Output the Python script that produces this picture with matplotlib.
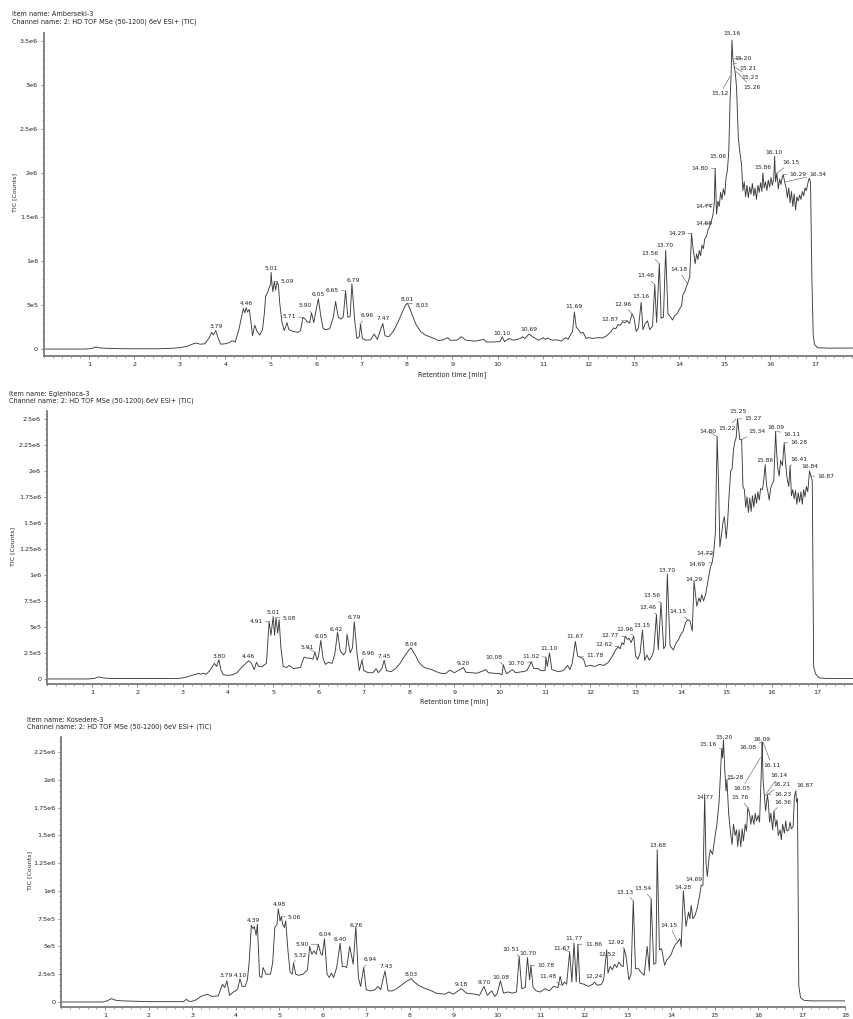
import numpy as np
import matplotlib.pyplot as plt
from matplotlib.ticker import MultipleLocator

# ---- Amberseki-3 trace: retention time [min] / TIC [x1e5 counts]
amb_time = [0.0, 0.9, 1.05, 1.15, 1.25, 1.4, 1.7, 2.0, 2.5, 2.8, 3.0, 3.15, 3.3, 3.35, 3.45, 3.55,
            3.65, 3.7, 3.74, 3.79, 3.84, 3.9, 4.0, 4.1, 4.15, 4.22, 4.3, 4.36, 4.4, 4.43, 4.46, 4.49,
            4.53, 4.57, 4.6, 4.65, 4.7, 4.76, 4.82, 4.86, 4.89, 4.93, 4.97, 5.0, 5.01, 5.03, 5.05,
            5.08, 5.11, 5.14, 5.17, 5.2, 5.25, 5.3, 5.36, 5.4, 5.5, 5.6, 5.66, 5.71, 5.76, 5.8, 5.86,
            5.9, 5.95, 6.0, 6.05, 6.1, 6.15, 6.2, 6.3, 6.38, 6.43, 6.49, 6.55, 6.6, 6.65, 6.7, 6.75,
            6.79, 6.85, 6.9, 6.95, 6.98, 7.02, 7.1, 7.2, 7.28, 7.35, 7.42, 7.47, 7.52, 7.6, 7.7, 7.8,
            7.9, 7.97, 8.01, 8.05, 8.1, 8.2, 8.3, 8.4, 8.5, 8.6, 8.7, 8.8, 8.9, 8.95, 9.1, 9.2, 9.3,
            9.5, 9.7, 9.75, 9.9, 10.05, 10.1, 10.15, 10.25, 10.35, 10.5, 10.55, 10.6, 10.69, 10.8,
            10.9, 11.0, 11.05, 11.1, 11.2, 11.3, 11.4, 11.5, 11.55, 11.6, 11.65, 11.69, 11.73, 11.78,
            11.83, 11.88, 11.95, 12.0, 12.1, 12.2, 12.3, 12.4, 12.5, 12.55, 12.6, 12.65, 12.7, 12.75,
            12.8, 12.85, 12.9, 12.96, 13.0, 13.05, 13.1, 13.16, 13.2, 13.25, 13.3, 13.35, 13.41, 13.46,
            13.5, 13.56, 13.6, 13.65, 13.7, 13.75, 13.8, 13.85, 13.9, 13.95, 14.0, 14.05, 14.08, 14.12,
            14.15, 14.18, 14.23, 14.27, 14.3, 14.35, 14.38, 14.41, 14.44, 14.47, 14.5, 14.53, 14.56,
            14.6, 14.63, 14.66, 14.69, 14.72, 14.74, 14.77, 14.79, 14.82, 14.85, 14.88, 14.91, 14.94,
            14.97, 15.0, 15.03, 15.06, 15.09, 15.12, 15.14, 15.16, 15.18, 15.2, 15.21, 15.23, 15.26,
            15.28, 15.3, 15.33, 15.37, 15.4, 15.43, 15.46, 15.49, 15.52, 15.55, 15.58, 15.61, 15.64,
            15.67, 15.7, 15.73, 15.76, 15.79, 15.82, 15.84, 15.87, 15.9, 15.93, 15.96, 15.99, 16.02,
            16.05, 16.08, 16.1, 16.12, 16.15, 16.18, 16.21, 16.24, 16.27, 16.29, 16.32, 16.35, 16.38,
            16.41, 16.44, 16.47, 16.5, 16.53, 16.56, 16.59, 16.62, 16.65, 16.68, 16.71, 16.74, 16.77,
            16.8, 16.83, 16.86, 16.89, 16.92, 16.95, 16.98, 17.05, 17.3, 18.0]
amb_tic = [0, 0, 0.05, 0.23, 0.12, 0.08, 0.04, 0.03, 0.03, 0.08, 0.15, 0.3, 0.6, 0.68, 0.55, 0.6,
           1.3, 1.9, 1.6, 2.1, 1.3, 0.55, 0.6, 0.75, 0.95, 0.8, 2.2, 3.7, 4.6, 4.1, 4.7, 4.2,
           4.5, 2.9, 1.5, 2.7, 2.0, 1.6, 2.2, 4.0, 6.0, 6.4, 7.0, 7.4, 8.7, 7.3, 6.5,
           7.7, 6.7, 7.6, 7.3, 5.2, 3.0, 2.1, 3.0, 2.2, 2.0, 1.9, 2.1, 3.6, 3.4, 3.1, 3.0,
           4.1, 3.0, 4.4, 5.7, 3.9, 2.4, 2.2, 2.3, 3.6, 5.4, 3.6, 3.4, 3.7, 6.6, 3.6, 3.7,
           7.4, 3.3, 1.2, 1.4, 2.8, 1.2, 1.0, 1.05, 1.7, 1.1, 2.2, 2.9, 1.5, 1.4, 2.0, 3.0,
           4.2, 5.0, 5.2, 4.8, 4.1, 2.8, 2.0, 1.6, 1.4, 1.2, 0.95, 1.05, 1.3, 1.0, 1.0, 1.4, 1.0,
           0.9, 1.1, 0.8, 0.8, 0.85, 1.4, 0.85, 1.2, 1.0, 1.2, 1.4, 1.2, 1.7, 1.3,
           1.0, 1.3, 1.1, 1.25, 1.0, 1.05, 0.9, 1.3, 1.1, 1.6, 2.0, 4.2, 2.5, 2.2,
           1.8, 1.9, 1.2, 1.3, 1.2, 1.3, 1.25, 1.5, 2.0, 2.4, 2.3, 2.8, 2.7, 3.1,
           3.0, 3.2, 2.9, 4.0, 3.6, 2.0, 2.4, 5.3, 2.2, 2.9, 3.2, 2.2, 2.6, 7.3,
           3.0, 9.7, 3.5, 3.6, 11.2, 4.0, 3.7, 3.3, 3.8, 4.0, 4.5, 4.9, 6.2, 6.5,
           7.0, 7.4, 8.2, 13.1, 11.5, 9.7, 10.8, 10.2, 11.2, 10.6, 11.8, 11.4, 12.5,
           12.8, 13.5, 13.8, 14.3, 14.8, 15.2, 16.5, 20.5, 15.3, 16.8, 16.2, 17.8, 17.0,
           18.2, 17.5, 19.5, 20.3, 22.5, 28.5, 31.0, 35.1, 33.0, 32.5, 32.0, 31.5, 29.8,
           27.0, 24.0, 22.5, 21.0, 18.0, 19.0, 17.3, 18.6, 17.2, 18.4, 17.6, 18.8, 17.4,
           18.3, 17.0, 18.6, 17.8, 18.9, 17.9, 20.0, 18.3, 19.0, 18.0, 19.2, 18.4, 19.5,
           18.6, 19.4, 21.9, 19.0, 20.0, 18.2, 19.3, 18.7, 19.6, 19.8, 19.0, 18.4, 17.2,
           18.3, 16.6, 17.9, 16.2, 17.6, 15.8, 17.3, 16.8, 17.5, 17.0, 17.9, 17.4, 18.3,
           18.0, 18.8, 19.4, 19.0, 8.0, 1.5, 0.5, 0.15, 0.1, 0.12]

# ---- Eglenhoca-3 trace
egl_time = [0.0, 0.9, 1.05, 1.15, 1.25, 1.4, 2.0, 2.9, 3.0, 3.1, 3.2, 3.3, 3.35, 3.4, 3.45, 3.52,
            3.6, 3.7, 3.75, 3.8, 3.85, 3.9, 4.0, 4.1, 4.2, 4.3, 4.4, 4.46, 4.52, 4.58, 4.63, 4.68,
            4.76, 4.85, 4.88, 4.91, 4.95, 5.0, 5.03, 5.06, 5.1, 5.13, 5.17, 5.22, 5.3, 5.35, 5.45,
            5.6, 5.68, 5.75, 5.82, 5.88, 5.92, 5.97, 6.0, 6.05, 6.1, 6.15, 6.22, 6.3, 6.36, 6.42,
            6.48, 6.55, 6.6, 6.63, 6.7, 6.75, 6.79, 6.85, 6.9, 6.96, 7.0, 7.1, 7.2, 7.27, 7.32, 7.4,
            7.45, 7.5, 7.6, 7.7, 7.8, 7.9, 7.95, 8.0, 8.04, 8.08, 8.15, 8.2, 8.3, 8.4, 8.5, 8.6, 8.7,
            8.8, 8.9, 9.0, 9.2, 9.25, 9.5, 9.7, 9.75, 10.0, 10.05, 10.08, 10.15, 10.28, 10.35, 10.5,
            10.6, 10.7, 10.75, 10.85, 10.9, 11.0, 11.02, 11.05, 11.1, 11.15, 11.3, 11.4, 11.5, 11.55,
            11.6, 11.67, 11.72, 11.78, 11.85, 11.9, 12.0, 12.1, 12.2, 12.3, 12.4, 12.5, 12.56, 12.62,
            12.66, 12.7, 12.74, 12.77, 12.82, 12.86, 12.9, 12.96, 13.0, 13.05, 13.1, 13.15, 13.2,
            13.25, 13.3, 13.35, 13.4, 13.46, 13.5, 13.56, 13.62, 13.66, 13.7, 13.76, 13.83, 13.9,
            13.95, 14.0, 14.05, 14.1, 14.15, 14.2, 14.25, 14.29, 14.35, 14.4, 14.43, 14.46, 14.5,
            14.55, 14.6, 14.65, 14.69, 14.72, 14.76, 14.8, 14.83, 14.86, 14.9, 14.93, 14.96, 15.0,
            15.03, 15.06, 15.1, 15.13, 15.16, 15.19, 15.22, 15.25, 15.27, 15.3, 15.34, 15.37, 15.4,
            15.43, 15.46, 15.49, 15.52, 15.55, 15.58, 15.61, 15.64, 15.67, 15.7, 15.73, 15.76, 15.8,
            15.83, 15.86, 15.89, 15.92, 15.95, 15.98, 16.02, 16.05, 16.09, 16.11, 16.14, 16.17, 16.2,
            16.24, 16.28, 16.31, 16.34, 16.38, 16.41, 16.44, 16.47, 16.5, 16.53, 16.56, 16.59, 16.62,
            16.65, 16.68, 16.71, 16.74, 16.77, 16.8, 16.84, 16.87, 16.9, 16.93, 16.97, 17.05, 17.2,
            18.0]
egl_tic = [0, 0, 0.05, 0.2, 0.1, 0.05, 0.04, 0.05, 0.1, 0.2, 0.35, 0.45, 0.55, 0.45, 0.55, 0.45,
           0.8, 1.5, 1.2, 1.85, 0.8, 0.4, 0.35, 0.4, 0.6, 1.1, 1.5, 1.75, 1.5, 0.9, 1.6, 1.2,
           1.2, 1.5, 3.5, 5.5, 4.2, 6.0, 4.2, 5.9, 4.4, 5.7, 3.0, 1.2, 1.1, 1.3, 1.0,
           1.1, 2.1, 2.0, 2.0, 1.9, 2.6, 1.8, 2.2, 3.7, 2.0, 1.4, 1.6, 1.5, 2.4, 4.5,
           2.7, 2.3, 2.6, 4.3, 2.5, 3.0, 5.5, 2.5, 0.8, 1.8, 0.8, 0.6, 0.6, 1.0, 0.6, 1.0,
           1.8, 0.8, 0.7, 1.0, 1.5, 2.2, 2.5, 2.8, 3.0, 2.7, 2.2, 1.7, 1.2, 1.0, 0.9, 0.7, 0.55,
           0.5, 0.85, 0.6, 1.1, 0.65, 0.55, 0.9, 0.6, 0.5, 0.4, 1.35, 0.5, 0.9, 0.6, 0.7,
           0.8, 1.65, 1.0, 1.0, 0.8, 0.8, 2.1, 1.2, 2.5, 0.9, 0.7, 0.8, 1.3, 0.9,
           1.5, 3.6, 2.2, 2.1, 1.9, 1.2, 1.3, 1.2, 1.4, 1.3, 1.6, 2.3, 2.8, 3.1,
           2.9, 3.5, 3.3, 4.1, 3.8, 3.9, 3.5, 4.1, 2.2, 1.9, 2.5, 4.7, 1.8,
           2.3, 1.8, 2.1, 2.7, 6.2, 2.8, 7.3, 2.9, 3.2, 10.1, 3.2, 2.8, 3.5,
           3.8, 4.3, 4.6, 5.4, 5.7, 5.6, 4.6, 9.4, 7.0, 7.8, 7.4, 8.1, 7.5,
           8.2, 9.5, 10.7, 11.2, 12.0, 14.0, 23.3, 19.0, 12.7, 14.0, 15.1, 15.6, 13.5,
           15.0, 17.4, 20.0, 20.2, 22.0, 22.8, 23.2, 25.0, 24.2, 23.0, 23.0, 18.5, 18.2,
           16.5, 17.5, 16.0, 17.4, 16.1, 17.6, 16.5, 17.8, 16.9, 18.0, 17.2, 18.3, 18.2,
           19.2, 20.6, 18.6, 18.0, 17.2, 18.3, 18.8, 19.0, 23.8, 22.0, 20.2, 19.5, 21.0,
           20.5, 22.7, 20.8, 19.4, 18.5, 20.5, 17.6, 18.2, 17.3, 18.1, 16.8, 17.9, 17.0,
           18.0, 16.8, 18.2, 17.5, 18.5, 18.0, 20.0, 19.5, 19.0, 1.2, 0.5, 0.1, 0.05,
           0.05]

# ---- Kosedere-3 trace
kos_time = [0.0, 0.95, 1.05, 1.15, 1.25, 1.4, 1.7, 2.0, 2.8, 2.87, 2.93, 3.0, 3.1, 3.2, 3.35, 3.45,
            3.6, 3.7, 3.75, 3.8, 3.86, 3.95, 4.0, 4.05, 4.1, 4.15, 4.22, 4.27, 4.31, 4.36, 4.4, 4.43,
            4.47, 4.5, 4.55, 4.6, 4.63, 4.7, 4.8, 4.85, 4.9, 4.95, 4.98, 5.02, 5.05, 5.08, 5.12, 5.15,
            5.2, 5.25, 5.3, 5.33, 5.38, 5.45, 5.55, 5.65, 5.7, 5.75, 5.8, 5.85, 5.9, 5.95, 5.99, 6.04,
            6.1, 6.15, 6.2, 6.25, 6.32, 6.4, 6.45, 6.5, 6.55, 6.62, 6.7, 6.76, 6.82, 6.87, 6.94, 7.0,
            7.1, 7.2, 7.27, 7.33, 7.43, 7.5, 7.6, 7.7, 7.8, 7.9, 8.03, 8.1, 8.2, 8.3, 8.5, 8.6, 8.7,
            8.8, 8.9, 9.0, 9.18, 9.3, 9.5, 9.6, 9.7, 9.78, 9.88, 9.95, 10.0, 10.08, 10.15, 10.25,
            10.35, 10.45, 10.51, 10.57, 10.65, 10.7, 10.75, 10.78, 10.83, 10.9, 11.0, 11.1, 11.2,
            11.3, 11.4, 11.45, 11.5, 11.55, 11.6, 11.67, 11.72, 11.77, 11.82, 11.86, 11.9, 12.0,
            12.1, 12.2, 12.24, 12.3, 12.4, 12.45, 12.52, 12.55, 12.6, 12.65, 12.7, 12.75, 12.8,
            12.85, 12.9, 12.92, 12.96, 13.0, 13.03, 13.08, 13.13, 13.18, 13.25, 13.3, 13.38, 13.45,
            13.5, 13.54, 13.6, 13.65, 13.68, 13.73, 13.78, 13.85, 13.9, 13.95, 14.0, 14.05, 14.1,
            14.15, 14.2, 14.23, 14.28, 14.34, 14.4, 14.43, 14.46, 14.5, 14.55, 14.6, 14.65, 14.69,
            14.73, 14.77, 14.8, 14.83, 14.87, 14.9, 14.95, 15.0, 15.05, 15.1, 15.13, 15.16, 15.18,
            15.2, 15.23, 15.26, 15.28, 15.32, 15.37, 15.4, 15.43, 15.47, 15.5, 15.53, 15.56, 15.6,
            15.63, 15.66, 15.7, 15.73, 15.76, 15.8, 15.83, 15.86, 15.9, 15.93, 15.96, 16.0, 16.03,
            16.05, 16.08, 16.09, 16.11, 16.14, 16.17, 16.21, 16.23, 16.26, 16.29, 16.33, 16.36, 16.4,
            16.43, 16.46, 16.5, 16.53, 16.56, 16.6, 16.63, 16.66, 16.7, 16.73, 16.76, 16.8, 16.83,
            16.86, 16.88, 16.9, 16.93, 16.97, 17.05, 17.2, 18.0]
kos_tic = [0, 0, 0.1, 0.3, 0.15, 0.1, 0.06, 0.03, 0.03, 0.24, 0.05, 0.06, 0.2, 0.5, 0.7, 0.5,
           0.55, 1.6, 1.3, 1.9, 0.6, 0.9, 1.0, 1.2, 2.1, 1.4, 1.4, 2.0, 3.5, 6.9, 6.6, 6.8,
           6.0, 7.0, 2.3, 2.2, 3.1, 2.5, 2.5, 3.5, 6.7, 7.0, 8.4, 7.3, 7.7, 7.0, 6.7, 7.3,
           4.7, 2.7, 2.5, 3.5, 2.5, 2.4, 2.5, 2.9, 5.0, 4.3, 4.6, 4.3, 5.2, 4.4, 4.2, 5.7,
           2.5, 2.2, 2.6, 2.2, 3.1, 5.3, 3.2, 3.2, 3.1, 5.0, 3.4, 6.8, 2.2, 1.4, 3.1, 1.1,
           1.0, 1.1, 1.4, 1.1, 2.8, 1.0, 1.0, 1.2, 1.5, 1.8, 2.1, 1.8, 1.5, 1.3, 1.0, 0.8, 0.75,
           0.7, 0.9, 0.7, 1.2, 0.8, 0.7, 0.6, 1.4, 0.6, 1.0, 0.5, 0.7, 1.9, 0.8, 0.9,
           0.8, 0.9, 4.1, 1.2, 1.3, 4.0, 2.0, 3.3, 1.3, 1.0, 0.9, 1.2, 1.0,
           1.4, 1.3, 2.3, 1.5, 1.8, 1.6, 4.5, 1.8, 5.3, 1.8, 5.2, 1.7, 1.6,
           1.4, 1.6, 1.8, 1.5, 1.6, 2.0, 4.7, 2.6, 3.2, 2.9, 3.4, 3.1, 3.6,
           3.3, 3.2, 4.8, 4.2, 3.0, 2.0, 2.5, 9.1, 3.0, 3.0, 2.7, 2.4, 5.0,
           2.8, 9.3, 3.4, 3.5, 13.7, 4.7, 4.8, 3.3, 3.8, 4.0, 4.3, 4.8, 5.2,
           5.4, 5.7, 5.0, 10.0, 6.8, 8.1, 7.5, 8.7, 7.5, 7.8, 8.5, 9.5, 10.5,
           10.5, 18.7, 12.5, 11.3, 13.0, 13.7, 13.3, 14.7, 16.0, 18.0, 20.5, 22.8, 22.0,
           23.6, 21.0, 19.0, 20.0, 17.0, 15.0, 14.2, 16.0, 15.0, 15.5, 14.0, 15.5, 14.0,
           15.6, 14.5, 16.0, 15.4, 17.5, 17.0, 16.0, 16.8, 16.0, 17.0, 16.3, 16.8, 16.2,
           18.5, 22.0, 23.4, 20.0, 18.5, 17.2, 18.7, 18.0, 16.2, 17.0, 15.5, 17.2, 15.8,
           16.4, 15.0, 15.5, 14.6, 16.0, 15.2, 16.3, 15.4, 15.5, 16.2, 15.6, 15.8, 18.5,
           19.0, 18.0, 18.3, 1.5, 0.4, 0.15, 0.1, 0.1]

# ---- peak labels and where their text sits (time, TIC x1e5)
amb_labels = ["3.79", "4.46", "5.01", "5.09", "5.71", "5.90", "6.05", "6.65", "6.79", "6.96",
              "7.47", "8.01", "8.03", "10.10", "10.69", "11.69", "12.87", "12.96", "13.16",
              "13.46", "13.56", "13.70", "14.18", "14.29", "14.69", "14.74", "14.80", "15.06",
              "15.12", "15.16", "15.20", "15.21", "15.23", "15.26", "15.86", "16.10", "16.15",
              "16.29", "16.34"]
amb_text_t = [3.80, 4.47, 5.01, 5.37, 5.41, 5.76, 6.05, 6.36, 6.81, 7.12, 7.47, 8.00, 8.33, 10.09,
              10.68, 11.67, 12.48, 12.76, 13.15, 13.26, 13.36, 13.69, 13.98, 13.94, 14.53, 14.53,
              14.46, 14.84, 14.90, 15.16, 15.40, 15.52, 15.56, 15.60, 15.84, 16.09, 16.46, 16.62,
              17.06]
amb_text_v = [2.6, 5.2, 9.2, 7.65, 3.7, 4.9, 6.2, 6.7, 7.8, 3.8, 3.5, 5.6, 5.0, 1.8, 2.2, 4.8, 3.3,
              5.1, 6.0, 8.3, 10.8, 11.8, 9.0, 13.1, 14.3, 16.2, 20.5, 21.9, 29.0, 35.8, 33.0, 31.9,
              30.9, 29.7, 20.6, 22.3, 21.2, 19.8, 19.8]

egl_labels = ["3.80", "4.46", "4.91", "5.01", "5.08", "5.91", "6.05", "6.42", "6.79", "6.96",
              "7.45", "8.04", "9.20", "10.08", "10.70", "11.02", "11.10", "11.67", "11.78",
              "12.62", "12.77", "12.96", "13.15", "13.46", "13.56", "13.70", "14.15", "14.29",
              "14.69", "14.72", "14.80", "15.22", "15.25", "15.27", "15.34", "15.86", "16.09",
              "16.11", "16.28", "16.41", "16.84", "16.87"]
egl_text_t = [3.80, 4.45, 4.62, 5.00, 5.36, 5.74, 6.05, 6.40, 6.78, 7.10, 7.45, 8.04, 9.20, 9.87,
              10.36, 10.68, 11.09, 11.67, 12.10, 12.29, 12.43, 12.76, 13.15, 13.27, 13.36, 13.70,
              13.94, 14.29, 14.36, 14.53, 14.60, 15.02, 15.25, 15.60, 15.67, 15.86, 16.09, 16.45,
              16.61, 16.61, 16.85, 17.20]
egl_text_v = [2.2, 2.15, 5.5, 6.4, 5.8, 3.05, 4.07, 4.78, 5.93, 2.47, 2.2, 3.3, 1.44, 2.09, 1.44,
              2.2, 2.95, 4.07, 2.28, 3.34, 4.13, 4.8, 5.1, 6.86, 7.98, 10.4, 6.47, 9.6, 11.0, 12.1,
              23.8, 24.1, 25.7, 25.0, 23.8, 21.0, 24.2, 23.5, 22.7, 21.1, 20.4, 19.5]

kos_labels = ["3.79", "4.10", "4.39", "4.98", "5.06", "5.32", "5.90", "6.04", "6.40", "6.76",
              "6.94", "7.43", "8.03", "9.18", "9.70", "10.08", "10.51", "10.70", "10.78", "11.48",
              "11.67", "11.77", "11.86", "12.24", "12.52", "12.92", "13.13", "13.54", "13.68",
              "14.15", "14.28", "14.69", "14.77", "15.16", "15.20", "15.28", "16.05", "15.76",
              "16.08", "16.09", "16.11", "16.14", "16.21", "16.23", "16.36", "16.87"]
kos_text_t = [3.79, 4.12, 4.41, 5.00, 5.35, 5.48, 5.52, 6.05, 6.40, 6.76, 7.09, 7.45, 8.04, 9.19,
              9.70, 10.09, 10.32, 10.72, 11.13, 11.18, 11.49, 11.77, 12.22, 12.23, 12.52, 12.73,
              12.94, 13.35, 13.69, 13.96, 14.28, 14.51, 14.78, 14.84, 15.20, 15.47, 15.62, 15.57,
              15.76, 16.09, 16.31, 16.48, 16.55, 16.56, 16.56, 17.07]
kos_text_v = [2.34, 2.4, 7.3, 8.8, 7.6, 4.2, 5.2, 6.1, 5.6, 6.9, 3.8, 3.2, 2.5, 1.53, 1.74, 2.2,
              4.75, 4.4, 3.33, 2.28, 4.84, 5.7, 5.2, 2.28, 4.3, 5.4, 9.9, 10.2, 14.1, 6.9, 10.3,
              11.0, 18.4, 23.2, 23.8, 20.2, 19.2, 18.4, 22.9, 23.6, 21.3, 20.4, 19.6, 18.7, 18.0,
              19.5]

# y tick labels as printed by the instrument software
amb_yticks = ["0", "5e5", "1e6", "1.5e6", "2e6", "2.5e6", "3e6", "3.5e6"]
egl_yticks = ["0", "2.5e5", "5e5", "7.5e5", "1e6", "1.25e6", "1.5e6", "1.75e6", "2e6", "2.25e6", "2.5e6"]
kos_yticks = ["0", "2.5e5", "5e5", "7.5e5", "1e6", "1.25e6", "1.5e6", "1.75e6", "2e6", "2.25e6"]

channel = "Channel name: 2: HD TOF MSe (50-1200) 6eV ESI+ (TIC)"

plt.rcParams["font.family"] = "DejaVu Sans"
TXT = "#222222"
AXC = "#7a7a7a"

fig = plt.figure(figsize=(8.54, 10.19), dpi=100)

panels = [
    # name, time, tic, labels, text t, text v, yticks, axes rect, ylim, minor y, xlabel, last x tick,
    # header pos, ylabel pos
    ("Amberseki-3", amb_time, amb_tic, amb_labels, amb_text_t, amb_text_v, amb_yticks,
     [0.0511, 0.6506, 0.957, 0.317], (-0.795, 35.9), 1.0, True, 17,
     (0.0141, 0.9863, 0.9784), (0.0176, 0.8106)),
    ("Eglenhoca-3", egl_time, egl_tic, egl_labels, egl_text_t, egl_text_v, egl_yticks,
     [0.0547, 0.3288, 0.9548, 0.268], (-0.48, 25.77), 0.5, True, 17,
     (0.0105, 0.6134, 0.6065), (0.0152, 0.4632)),
    ("Kosedere-3", kos_time, kos_tic, kos_labels, kos_text_t, kos_text_v, kos_yticks,
     [0.0719, 0.0118, 0.918, 0.265], (-0.45, 23.87), 0.5, False, 18,
     (0.0316, 0.2934, 0.2866), (0.0351, 0.1462)),
]

for (name, t, tic, labels, tx, tv, yt, rect, ylim, yminor, show_xlabel, last_tick,
     head, ylab) in panels:
    t = np.array(t)
    tic = np.array(tic)
    ax = fig.add_axes(rect)
    ax.plot(t, tic, color="#3c3c3c", lw=0.65)

    ax.set_xlim(0, 18)
    ax.set_ylim(*ylim)
    ax.set_xticks(np.arange(1, last_tick + 1))
    ax.set_xticklabels([str(i) for i in range(1, last_tick + 1)])
    ax.xaxis.set_minor_locator(MultipleLocator(0.2))
    step = 5.0 if len(yt) == 8 else 2.5
    ax.set_yticks(np.arange(len(yt)) * step)
    ax.set_yticklabels(yt)
    ax.yaxis.set_minor_locator(MultipleLocator(yminor))

    for side in ["top", "right"]:
        ax.spines[side].set_visible(False)
    for side in ["left", "bottom"]:
        ax.spines[side].set_color(AXC)
        ax.spines[side].set_linewidth(1.3)
    ax.tick_params(which="major", length=2.5, width=0.6, color=AXC, labelsize=4.6,
                   labelcolor=TXT, pad=1.5)
    ax.tick_params(which="minor", length=1.3, width=0.5, color=AXC)

    if show_xlabel:
        ax.set_xlabel("Retention time [min]", fontsize=4.7, color=TXT, labelpad=3)

    fig.text(head[0], head[1], "Item name: " + name, fontsize=4.7, color=TXT, va="center")
    fig.text(head[0], head[2], channel, fontsize=4.7, color=TXT, va="center")
    fig.text(ylab[0], ylab[1], "TIC [Counts]", fontsize=4.5, color=TXT, rotation=90,
             ha="center", va="center")

    for lab, x_txt, v_txt in zip(labels, tx, tv):
        lt = float(lab)
        near = np.abs(t - lt) <= 0.03
        peak = tic[near].max() if near.any() else np.interp(lt, t, tic)
        if abs(x_txt - lt) > 0.1:
            ax.annotate(lab, xy=(lt, peak), xytext=(x_txt, v_txt), fontsize=4.3, color=TXT,
                        ha="center", va="center",
                        arrowprops=dict(arrowstyle="-", color="#555555", lw=0.4,
                                        shrinkA=0, shrinkB=0))
        else:
            ax.text(x_txt, v_txt, lab, fontsize=4.3, color=TXT, ha="center", va="center")

fig.savefig("out.png", dpi=100)
